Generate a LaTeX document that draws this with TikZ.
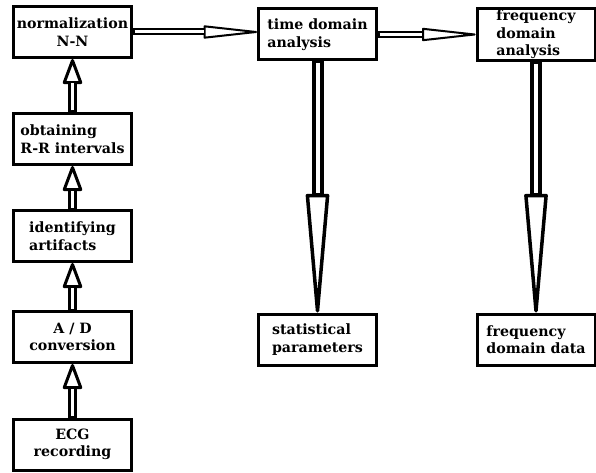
\documentclass[tikz,border=0pt]{standalone}
\usepackage{fontspec}
\setmainfont{DejaVu Serif}
\usetikzlibrary{arrows.meta}
\tikzstyle{block} = [rectangle, minimum width=118pt, minimum height=51pt, inner sep=2pt, draw=black, line width=3pt, font=\bfseries\fontsize{14.2}{17.5}\selectfont]
\tikzstyle{uparrow} = [line width=9pt, -{Triangle[open, round, length=28pt, width=20pt, line width=3pt]}, postaction={draw=white, line width=3pt, -, shorten <=1.5pt, shorten >=24.5pt}]
\tikzstyle{rightarrow} = [line width=7pt, -{Triangle[open, round, length=62pt, width=13pt, line width=2pt]}, postaction={draw=white, line width=3pt, -, shorten <=1.5pt, shorten >=53.5pt}]
\tikzstyle{downarrow} = [line width=12pt, -{Triangle[open, round, length=138pt, width=23pt, line width=3.5pt]}, postaction={draw=white, line width=4pt, -, shorten <=1.5pt, shorten >=119.5pt}]

\begin{document}
\begin{tikzpicture}[x=1pt, y=1pt, node distance=104pt]
	\useasboundingbox (0,0) rectangle (596,-473);
	\node (n0) [block, align=center] at (72.5,-32) {normalization\\N-N};
	\node (n1) [block, align=left, below of=n0, yshift=-3pt] {obtaining\\R-R intervals};
	\node (n2) [block, align=left, below of=n1, yshift=7pt] {identifying\\artifacts};
	\node (n3) [block, align=center, below of=n2, yshift=3pt] {A / D\\conversion};
	\node (n4) [block, align=center, below of=n3, yshift=-3.5pt] {ECG\\recording};
	\node (n5) [block, align=left, right of=n0, xshift=141pt, yshift=-2.5pt] {time domain\\analysis};
	\node (n6) [block, align=left, right of=n5, xshift=114.5pt] {frequency\\domain\\analysis};
	\node (n7) [block, align=left, below of=n5, yshift=-201pt] {statistical\\parameters};
	\node (n8) [block, align=left, below of=n6, yshift=-201pt] {frequency\\domain data};
	
	\draw [uparrow] (n4) -- (n3);
	\draw [uparrow] (n3) -- (n2);
	\draw [uparrow] (n2) -- (n1);
	\draw [uparrow] (n1) -- (n0);
	
	\draw [rightarrow] (n0.east) -- (n0.east -| n5.west);
	\draw [rightarrow] (n5) -- (n6);
	
	\draw [downarrow] (n5) -- (n7);
	\draw [downarrow] (n6) -- (n8);
\end{tikzpicture}
\end{document}
